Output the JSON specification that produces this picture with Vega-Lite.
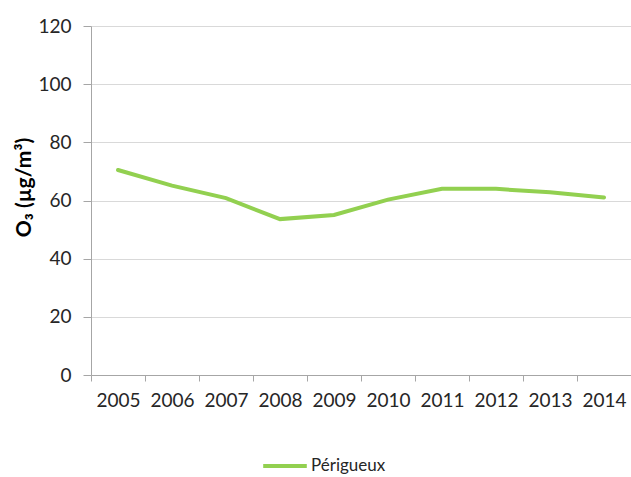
{
  "$schema": "https://vega.github.io/schema/vega-lite/v6.json",
  "autosize": {"type": "none"},
  "padding": {"left": 91, "top": 26, "right": 0, "bottom": 102},
  "width": 540,
  "height": 349,
  "background": "white",
  "config": {
    "view": {"stroke": null},
    "font": "Lato",
    "axis": {"labelFont": "Lato", "titleFont": "Lato", "labelColor": "#262626", "titleColor": "#000000"}
  },
  "data": {
    "values": [
      {"year": "2005", "o3": 70.5, "city": "Périgueux"},
      {"year": "2006", "o3": 65.1, "city": "Périgueux"},
      {"year": "2007", "o3": 60.8, "city": "Périgueux"},
      {"year": "2008", "o3": 53.6, "city": "Périgueux"},
      {"year": "2009", "o3": 55.0, "city": "Périgueux"},
      {"year": "2010", "o3": 60.3, "city": "Périgueux"},
      {"year": "2011", "o3": 64.0, "city": "Périgueux"},
      {"year": "2012", "o3": 64.0, "city": "Périgueux"},
      {"year": "2013", "o3": 62.8, "city": "Périgueux"},
      {"year": "2014", "o3": 61.0, "city": "Périgueux"}
    ]
  },
  "mark": {"type": "line", "strokeWidth": 4, "strokeCap": "round"},
  "encoding": {
    "x": {
      "field": "year",
      "type": "ordinal",
      "bandPosition": 0.5,
      "scale": {"type": "band", "paddingInner": 0, "paddingOuter": 0},
      "axis": {
        "title": null,
        "labelAngle": 0,
        "labelFontSize": 19,
        "labelPadding": 10,
        "tickBand": "extent",
        "tickSize": 6,
        "tickColor": "#a6a6a6",
        "domainColor": "#a6a6a6",
        "grid": false
      }
    },
    "y": {
      "field": "o3",
      "type": "quantitative",
      "scale": {"domain": [0, 120], "nice": false},
      "axis": {
        "title": "O₃ (µg/m³)",
        "titleFontSize": 21,
        "titleFontWeight": "bold",
        "titlePadding": 3,
        "titleY": 161,
        "values": [0, 20, 40, 60, 80, 100, 120],
        "labelFontSize": 19,
        "labelPadding": 12,
        "tickSize": 8,
        "tickColor": "#a6a6a6",
        "domainColor": "#a6a6a6",
        "gridColor": "#d9d9d9",
        "gridWidth": 1
      }
    },
    "color": {
      "field": "city",
      "type": "nominal",
      "scale": {"range": ["#92D050"]},
      "legend": {
        "title": null,
        "orient": "none",
        "legendX": 170,
        "legendY": 416,
        "symbolType": "stroke",
        "symbolSize": 1900,
        "symbolStrokeWidth": 4,
        "labelFontSize": 17,
        "labelColor": "#262626",
        "labelOffset": 2
      }
    }
  }
}
